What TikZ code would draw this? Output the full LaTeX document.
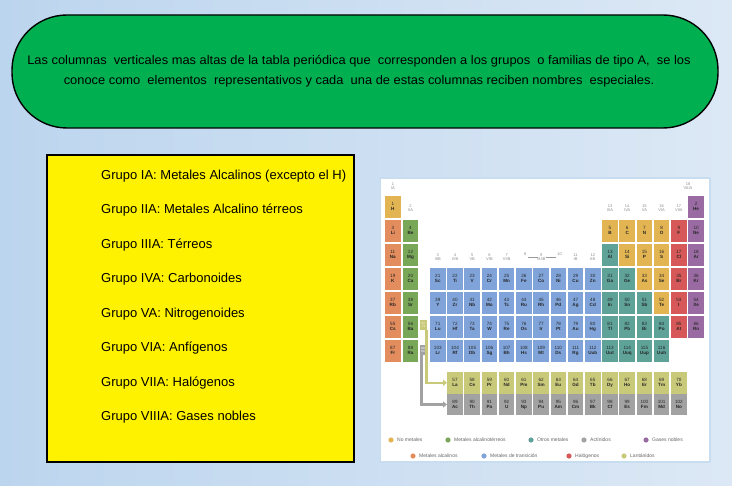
\documentclass[tikz,border=0pt]{standalone}
\usepackage{fontspec}
\setmainfont{Liberation Sans}
\usetikzlibrary{arrows.meta}
\definecolor{bgl}{HTML}{BCD5EE}
\definecolor{bgr}{HTML}{DCE8F5}
\definecolor{gbox}{HTML}{00B050}
\definecolor{nm}{HTML}{E3B552}
\definecolor{am}{HTML}{E38C5E}
\definecolor{ae}{HTML}{78A758}
\definecolor{om}{HTML}{5EA298}
\definecolor{tm}{HTML}{80A4DA}
\definecolor{hal}{HTML}{D65858}
\definecolor{ng}{HTML}{9A6BA2}
\definecolor{lan}{HTML}{C9C97A}
\definecolor{act}{HTML}{A2A2A2}
\tikzset{
  cell/.style={minimum width=15.6pt,minimum height=21.5pt,inner sep=0pt,align=center,
    font=\fontsize{4.6}{5.6}\selectfont,text=black!85},
  grp/.style={font=\fontsize{4}{4.6}\selectfont,text=black!45,align=center,inner sep=0pt},
  leg/.style={font=\fontsize{5}{5}\selectfont,text=black!60,anchor=west,inner sep=0pt},
  item/.style={anchor=west,font=\fontsize{13}{15}\selectfont,inner sep=0pt},
}
\newcommand\elem[5]{%
 \pgfmathsetmacro\ex{#2==1 ? 385 : (#2==2 ? 402.7 : 430+(#2-3)*17.22)}%
 \pgfmathsetmacro\ey{#1<8 ? 196+(#1-1)*24 : 372+(#1-8)*21.7}%
 \node[cell,fill=#5] (e#3) at (\ex+7.8,\ey+10.8) {#3\\[-0.5pt]\textbf{#4}};}
\newcommand\trow[5]{% period, first col, first number, color, symbol list
 \foreach \s [count=\i from 0] in {#5}{%
   \pgfmathtruncatemacro\cc{#2+\i}\pgfmathtruncatemacro\nn{#3+\i}%
   \elem{#1}{\cc}{\nn}{\s}{#4}}}
\begin{document}
\begin{tikzpicture}[x=1pt,y=-1pt]
\useasboundingbox (0,0) rectangle (732,486);
\fill[left color=bgl,right color=bgr] (0,0) rectangle (732,486);
% green box
\node[draw=black,line width=1.4pt,fill=gbox,rounded corners=55pt,minimum width=706pt,
  minimum height=113pt,inner sep=0pt] (gb) at (365,71.5) {};
\node[align=center,font=\fontsize{12.5}{20}\selectfont,xscale=1.03] (gt) at (359,71.5) {Las columnas\ \ verticales mas altas de la tabla periódica que\ \ corresponden a los grupos\ \ o familias de tipo A,\ \ se los\\conoce como\ \ elementos\ \ representativos y cada\ \ una de estas columnas reciben nombres\ \ especiales.};
% yellow box
\node[draw=black,line width=1.2pt,fill=yellow,minimum width=307pt,minimum height=307pt,inner sep=0pt] (yb) at (200.5,308.5) {};
\node[item] (g1) at (101,176) {Grupo IA: Metales Alcalinos (excepto el H)};
\node[item] (g2) at (101,210.5) {Grupo IIA: Metales Alcalino térreos};
\node[item] (g3) at (101,245) {Grupo IIIA: Térreos};
\node[item] (g4) at (101,279.5) {Grupo IVA: Carbonoides};
\node[item] (g5) at (101,314) {Grupo VA: Nitrogenoides};
\node[item] (g6) at (101,348.5) {Grupo VIA: Anfígenos};
\node[item] (g7) at (101,383) {Grupo VIIA: Halógenos};
\node[item] (g8) at (101,417.5) {Grupo VIIIA: Gases nobles};
% table frame
\node[draw=bgl!80,line width=1.5pt,fill=white,minimum width=330pt,minimum height=284pt,inner sep=0pt] (tb) at (545,320) {};
% elements
\elem{1}{1}{1}{H}{nm}\elem{1}{18}{2}{He}{ng}
\elem{2}{1}{3}{Li}{am}\elem{2}{2}{4}{Be}{ae}
\trow{2}{13}{5}{nm}{B,C,N,O}\elem{2}{17}{9}{F}{hal}\elem{2}{18}{10}{Ne}{ng}
\elem{3}{1}{11}{Na}{am}\elem{3}{2}{12}{Mg}{ae}\elem{3}{13}{13}{Al}{om}
\trow{3}{14}{14}{nm}{Si,P,S}\elem{3}{17}{17}{Cl}{hal}\elem{3}{18}{18}{Ar}{ng}
\elem{4}{1}{19}{K}{am}\elem{4}{2}{20}{Ca}{ae}
\trow{4}{3}{21}{tm}{Sc,Ti,V,Cr,Mn,Fe,Co,Ni,Cu,Zn}
\trow{4}{13}{31}{om}{Ga,Ge}\trow{4}{15}{33}{nm}{As,Se}\elem{4}{17}{35}{Br}{hal}\elem{4}{18}{36}{Kr}{ng}
\elem{5}{1}{37}{Rb}{am}\elem{5}{2}{38}{Sr}{ae}
\trow{5}{3}{39}{tm}{Y,Zr,Nb,Mo,Tc,Ru,Rh,Pd,Ag,Cd}
\trow{5}{13}{49}{om}{In,Sn,Sb}\elem{5}{16}{52}{Te}{nm}\elem{5}{17}{53}{I}{hal}\elem{5}{18}{54}{Xe}{ng}
\elem{6}{1}{55}{Cs}{am}\elem{6}{2}{56}{Ba}{ae}
\trow{6}{3}{71}{tm}{Lu,Hf,Ta,W,Re,Os,Ir,Pt,Au,Hg}
\trow{6}{13}{81}{om}{Tl,Pb,Bi,Po}\elem{6}{17}{85}{At}{hal}\elem{6}{18}{86}{Rn}{ng}
\elem{7}{1}{87}{Fr}{am}\elem{7}{2}{88}{Ra}{ae}
\trow{7}{3}{103}{tm}{Lr,Rf,Db,Sg,Bh,Hs,Mt,Ds,Rg,Uub}
\trow{7}{13}{113}{om}{Uut,Uuq,Uup,Uuh}
\trow{8}{4}{57}{lan}{La,Ce,Pr,Nd,Pm,Sm,Eu,Gd,Tb,Dy,Ho,Er,Tm,Yb}
\trow{9}{4}{89}{act}{Ac,Th,Pa,U,Np,Pu,Am,Cm,Bk,Cf,Es,Fm,Md,No}
% placeholders and arrows
\node[fill=lan,minimum width=7pt,minimum height=10pt,inner sep=0pt,font=\fontsize{3}{3}\selectfont,text=white,align=center] (pl) at (423.5,325) {57-\\71};
\node[fill=act,minimum width=7pt,minimum height=10pt,inner sep=0pt,font=\fontsize{3}{3}\selectfont,text=white,align=center] (pa) at (423.5,350) {89-\\102};
\draw[lan,line width=2.2pt,-{Triangle[length=4pt,width=6pt]}] (pl.south -| 426.5,0) |- (e57.west);
\draw[act,line width=2.2pt,-{Triangle[length=4pt,width=6pt]}] (pa.south -| 421.5,0) |- (e89.west);
% group labels
\node[grp] (l1) at (393,186) {1\\IA};
\node[grp] (l2) at (410.5,208) {2\\IIA};
\node[grp] (l18) at (688,186) {18\\VIIIA};
\foreach \c/\t in {13/IIIA,14/IVA,15/VA,16/VIA,17/VIIA}{
  \pgfmathsetmacro\lx{430+(\c-3)*17.22+7.8}
  \node[grp] (l\c) at (\lx,208) {\c\\\t};}
\foreach \c/\t in {3/IIIB,4/IVB,5/VB,6/VIB,7/VIIB,9/VIIIB,11/IB,12/IIB}{
  \pgfmathsetmacro\lx{430+(\c-3)*17.22+7.8}
  \node[grp] (l\c) at (\lx,257) {\c\\\t};}
\node[grp] (l8) at (525.2,254.5) {8};
\node[grp] (l10) at (559.6,254.5) {10};
\draw[black!40,line width=0.4pt] (l8.south east) ++(1,1.5) -- ++(10,0);
\draw[black!40,line width=0.4pt] (l10.south west) ++(-1,1.5) -- ++(-10,0);
% legend
\foreach \x/\y/\c/\t [count=\k] in {
  391/440/nm/No metales, 448/440/ae/Metales alcalinot\'erreos, 531/440/om/Otros metales,
  584/440/act/Act\'inidos, 646/440/ng/Gases nobles,
  413/456/am/Metales alcalinos, 484/456/tm/Metales de transici\'on,
  569/456/hal/Hal\'ogenos, 624/456/lan/Lant\'anidos}{
  \fill[\c] (\x,\y) circle (2.6pt);
  \node[leg] (lg\k) at (\x+6,\y) {\t};}
\end{tikzpicture}
\end{document}
